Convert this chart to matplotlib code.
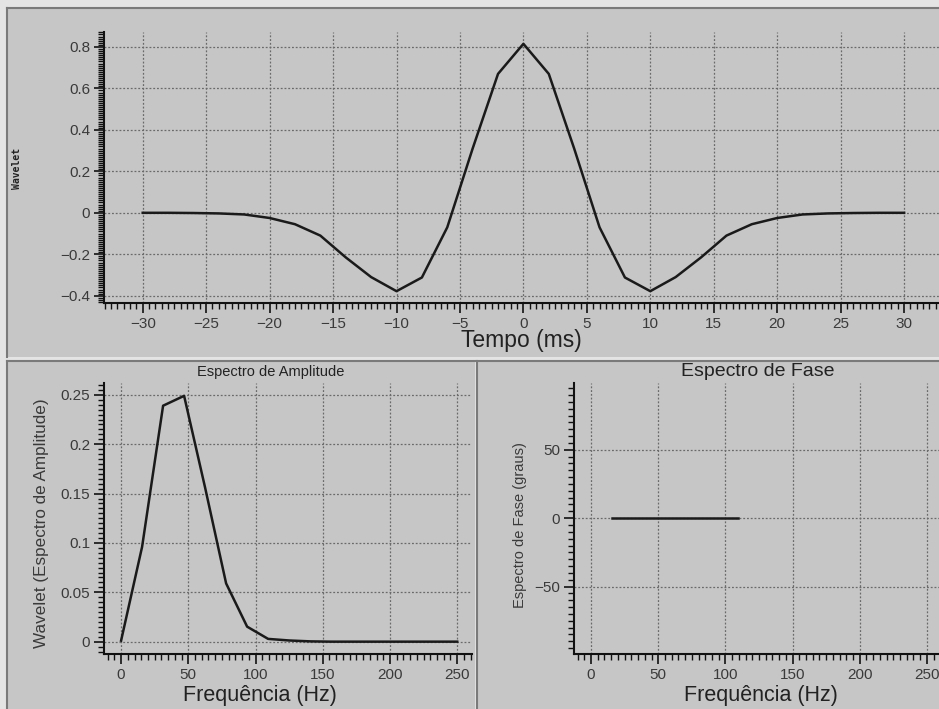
import matplotlib
matplotlib.use("Agg")
import matplotlib.pyplot as plt
from matplotlib.patches import Rectangle
from matplotlib.lines import Line2D
from matplotlib.ticker import MultipleLocator

# --- data ---
tempo = [-30, -28, -26, -24, -22, -20, -18, -16, -14, -12, -10, -8, -6, -4, -2,
         0, 2, 4, 6, 8, 10, 12, 14, 16, 18, 20, 22, 24, 26, 28, 30]
wavelet = [0.0, 0.0, -0.001, -0.003, -0.008, -0.025, -0.055, -0.11, -0.215, -0.31, -0.378,
           -0.312, -0.07, 0.31, 0.67, 0.815, 0.67, 0.31, -0.07, -0.312, -0.378, -0.31,
           -0.215, -0.11, -0.055, -0.025, -0.008, -0.003, -0.001, 0.0, 0.0]

freq = [0, 15.625, 31.25, 46.875, 62.5, 78.125, 93.75, 109.375, 125, 140.625,
        156.25, 171.875, 187.5, 203.125, 218.75, 234.375, 250]
amplitude = [0.001, 0.096, 0.239, 0.249, 0.156, 0.059, 0.0152, 0.0028, 0.0012, 0.0003,
             0.0, 0.0, 0.0, 0.0, 0.0, 0.0, 0.0]

freq_fase = [15.625, 31.25, 46.875, 62.5, 78.125, 93.75, 109.375]
fase = [0, 0, 0, 0, 0, 0, 0]

W, H = 939, 709
PANEL = '#c6c6c6'
TXT = '#3a3a3a'
plt.rcParams['font.family'] = ['Liberation Sans', 'DejaVu Sans']

fig = plt.figure(figsize=(W / 100, H / 100), dpi=100, facecolor='#e4e4e4')


def px(x0, y0, x1, y1):
    # pixel box (top-left origin) -> figure fraction rect
    return [x0 / W, 1 - y1 / H, (x1 - x0) / W, (y1 - y0) / H]


# panel backgrounds with dark left/top border
for (x0, y0, x1, y1) in [(7, 8, 939, 357), (7, 361, 475, 709), (477, 361, 939, 709)]:
    r = px(x0, y0, x1, y1)
    fig.patches.append(Rectangle((r[0], r[1]), r[2], r[3], transform=fig.transFigure,
                                 facecolor=PANEL, edgecolor='none', zorder=-2))
    fig.lines.append(Line2D([r[0], r[0]], [r[1], r[1] + r[3]], transform=fig.transFigure,
                            color='#7a7a7a', lw=1.5, zorder=-1))
    fig.lines.append(Line2D([r[0], r[0] + r[2]], [r[1] + r[3], r[1] + r[3]],
                            transform=fig.transFigure, color='#7a7a7a', lw=1.5, zorder=-1))


def style(ax, xmaj, xmin, ymaj, ymin):
    ax.set_facecolor('none')
    for s in ['top', 'right']:
        ax.spines[s].set_visible(False)
    for s in ['left', 'bottom']:
        ax.spines[s].set_linewidth(1.5)
        ax.spines[s].set_color('#111111')
    ax.xaxis.set_major_locator(MultipleLocator(xmaj))
    ax.xaxis.set_minor_locator(MultipleLocator(xmin))
    ax.yaxis.set_major_locator(MultipleLocator(ymaj))
    ax.yaxis.set_minor_locator(MultipleLocator(ymin))
    ax.tick_params(which='major', direction='out', length=7, width=1.2, color='#111111',
                   labelsize=11, labelcolor=TXT, pad=3)
    ax.tick_params(which='minor', direction='out', length=4, width=1.0, color='#111111')
    ax.grid(which='major', color='#6a6a6a', linestyle=(0, (1.5, 1.5)), linewidth=0.9)
    ax.set_axisbelow(True)


# top: wavelet in time
ax1 = fig.add_axes(px(104, 32, 939, 303))
ax1.plot(tempo, wavelet, color='#1a1a1a', lw=1.8)
ax1.set_xlim(-33.05, 32.75)
ax1.set_ylim(-0.435, 0.872)
style(ax1, 5, 0.5, 0.2, 0.01)
ax1.set_yticks([-0.4, -0.2, 0, 0.2, 0.4, 0.6, 0.8])
ax1.set_yticklabels(['\u22120.4', '\u22120.2', '0', '0.2', '0.4', '0.6', '0.8'])
fig.text(521 / W, 1 - 341 / H, 'Tempo (ms)', ha='center', va='center', fontsize=16.5, color='#222222')
fig.text(17 / W, 1 - 168 / H, 'Wavelet', rotation=90, ha='center', va='center',
         fontsize=7, fontweight='bold', family='DejaVu Sans Mono', color='#222222')

# bottom left: amplitude spectrum
ax2 = fig.add_axes(px(104, 383, 472, 654))
ax2.plot(freq, amplitude, color='#1a1a1a', lw=1.8)
ax2.set_xlim(-12.7, 261)
ax2.set_ylim(-0.0125, 0.262)
style(ax2, 50, 5, 0.05, 0.005)
ax2.set_yticks([0, 0.05, 0.1, 0.15, 0.2, 0.25])
ax2.set_yticklabels(['0', '0.05', '0.1', '0.15', '0.2', '0.25'])
fig.text(271 / W, 1 - 372 / H, 'Espectro de Amplitude', ha='center', va='center',
         fontsize=10.5, color='#222222')
fig.text(260 / W, 1 - 695 / H, 'Frequência (Hz)', ha='center', va='center',
         fontsize=15.5, color='#222222')
fig.text(42 / W, 1 - 523 / H, 'Wavelet (Espectro de Amplitude)', rotation=90,
         ha='center', va='center', fontsize=12.3, color=TXT)

# bottom right: phase spectrum
ax3 = fig.add_axes(px(574, 383, 939, 654))
ax3.plot(freq_fase, fase, color='#1a1a1a', lw=1.8)
ax3.set_xlim(-12.7, 259)
ax3.set_ylim(-99.3, 98.8)
style(ax3, 50, 5, 50, 5)
ax3.set_yticks([-50, 0, 50])
ax3.set_yticklabels(['\u221250', '0', '50'])
fig.text(758 / W, 1 - 372 / H, 'Espectro de Fase', ha='center', va='center',
         fontsize=14, color='#222222')
fig.text(761 / W, 1 - 695 / H, 'Frequência (Hz)', ha='center', va='center',
         fontsize=15.5, color='#222222')
fig.text(520 / W, 1 - 525 / H, 'Espectro de Fase (graus)', rotation=90,
         ha='center', va='center', fontsize=10.5, color=TXT)

fig.savefig('out.png', dpi=100, facecolor=fig.get_facecolor())
